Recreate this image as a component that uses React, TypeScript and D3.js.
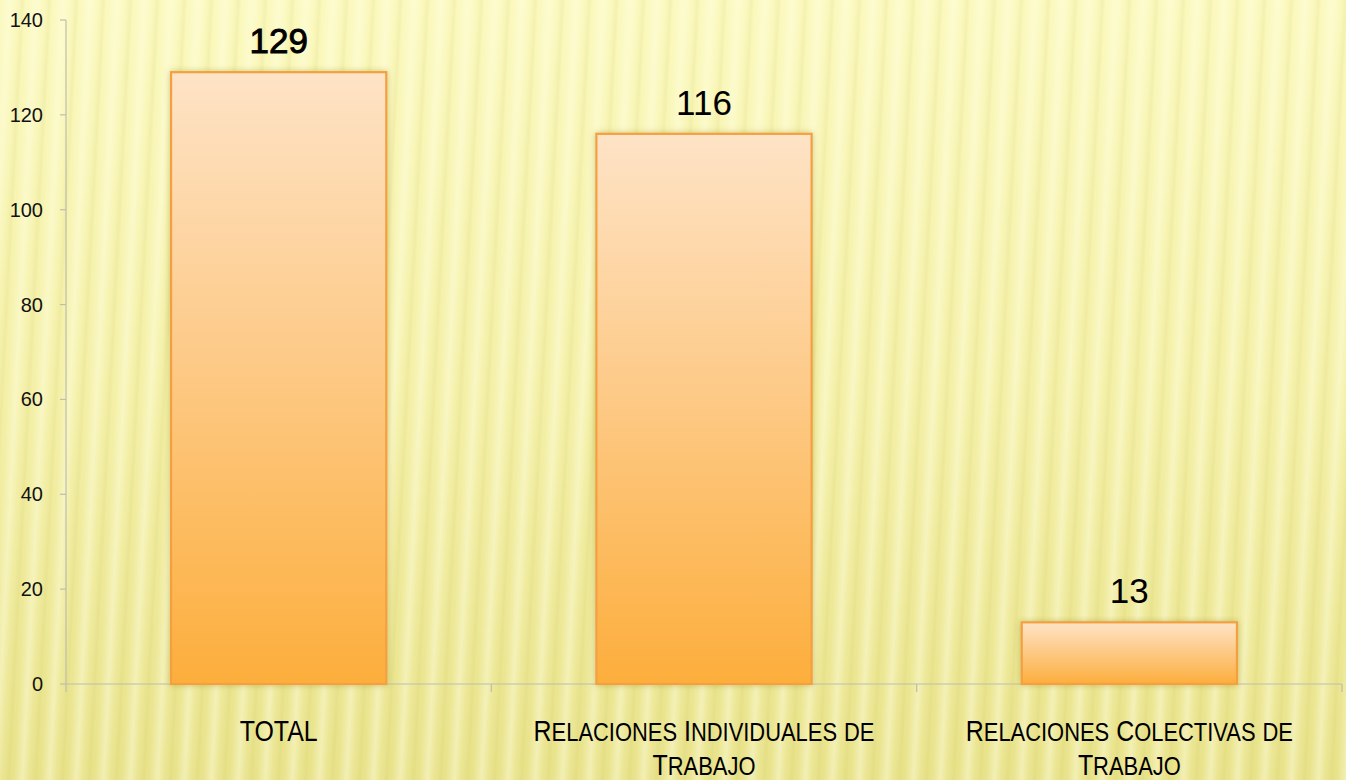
import * as d3 from "d3";
import React from "react";

const categories = ["TOTAL", "Relaciones Individuales de Trabajo", "Relaciones Colectivas de Trabajo"];
const values = [129, 116, 13];
const yTicks = [0, 20, 40, 60, 80, 100, 120, 140];

const W = 1346;
const H = 780;
const margin = { top: 20, right: 4, bottom: 96, left: 66 };

// crude wrap: keep words on a line until it gets too long
function wrapLabel(label: string, maxChars: number): string[] {
    const words = label.split(" ");
    const lines: string[] = [];
    let cur = "";
    words.forEach(w => {
        const next = cur ? cur + " " + w : w;
        if (next.length > maxChars && cur) {
            lines.push(cur);
            cur = w;
        } else {
            cur = next;
        }
    });
    if (cur) lines.push(cur);
    return lines;
}

// fake small caps: real capitals big, lower case letters as smaller capitals
function smallCaps(line: string, big: number, small: number) {
    const parts: { t: string; s: number }[] = [];
    for (const ch of line) {
        const isLower = ch !== ch.toUpperCase();
        const s = isLower ? small : big;
        const last = parts[parts.length - 1];
        if (last && last.s === s) last.t += ch.toUpperCase();
        else parts.push({ t: ch.toUpperCase(), s });
    }
    return parts;
}

const App: React.FC = () => {
    const x = d3.scaleBand<string>()
        .domain(categories)
        .range([margin.left, W - margin.right])
        .paddingInner(0.494)
        .paddingOuter(0.247);
    const y = d3.scaleLinear().domain([0, 140]).range([H - margin.bottom, margin.top]);

    const step = x.step();
    const bandEdges = categories.map((c, i) => margin.left + step * (i + 1));
    const y0 = y(0);
    const font = "Liberation Sans, Arial, sans-serif";

    return (
        <svg width={W} height={H} style={{ position: "absolute", top: 0, left: 0 }}>
            <defs>
                <linearGradient id="bg" x1="0" y1="0" x2="0" y2="1">
                    <stop offset="0" stopColor="#fbf9bd" />
                    <stop offset="0.5" stopColor="#f4f0a6" />
                    <stop offset="1" stopColor="#e8e288" />
                </linearGradient>
                <linearGradient id="stripe" x1="0" y1="0" x2="1" y2="0">
                    <stop offset="0" stopColor="#fffff0" stopOpacity="0" />
                    <stop offset="0.35" stopColor="#ffffe8" stopOpacity="0.45" />
                    <stop offset="0.6" stopColor="#ffffe8" stopOpacity="0.1" />
                    <stop offset="0.85" stopColor="#c8c060" stopOpacity="0.14" />
                    <stop offset="1" stopColor="#fffff0" stopOpacity="0" />
                </linearGradient>
                <pattern id="stripes" width="27" height="780" patternUnits="userSpaceOnUse" patternTransform="skewX(-3)">
                    <rect width="27" height="780" fill="url(#stripe)" />
                </pattern>
                <linearGradient id="bar" x1="0" y1="0" x2="0" y2="1">
                    <stop offset="0" stopColor="#fee3c6" />
                    <stop offset="0.45" stopColor="#fdcb8a" />
                    <stop offset="1" stopColor="#fdae3c" />
                </linearGradient>
                <filter id="shadow" x="-10%" y="-10%" width="120%" height="120%">
                    <feDropShadow dx="0" dy="0" stdDeviation="3" floodColor="#7a6a20" floodOpacity="0.35" />
                </filter>
            </defs>

            <rect width={W} height={H} fill="url(#bg)" />
            <rect width={W} height={H} fill="url(#stripes)" />

            {/* y axis */}
            <line x1={margin.left} x2={margin.left} y1={margin.top} y2={y0 + 8} stroke="#bdbdb0" strokeWidth={1.2} />
            {yTicks.map(t => (
                <g key={t}>
                    <line x1={margin.left - 6} x2={margin.left} y1={y(t)} y2={y(t)} stroke="#bdbdb0" strokeWidth={1.2} />
                    <text x={43} y={y(t)} dy="0.35em" textAnchor="end" fontFamily={font} fontSize={20} fill="#111">{t}</text>
                </g>
            ))}

            {/* x axis */}
            <line x1={margin.left} x2={W - margin.right} y1={y0} y2={y0} stroke="#bdbdb0" strokeWidth={1.2} />
            {bandEdges.map((bx, i) => (
                <line key={i} x1={bx} x2={bx} y1={y0} y2={y0 + 8} stroke="#bdbdb0" strokeWidth={1.2} />
            ))}

            {/* bars */}
            {categories.map((c, i) => {
                const bx = x(c) as number;
                const top = y(values[i]);
                return (
                    <g key={c}>
                        <rect x={bx} y={top} width={x.bandwidth()} height={y0 - top} fill="url(#bar)" stroke="#f4a040" strokeWidth={2.2} filter="url(#shadow)" />
                        <text x={bx + x.bandwidth() / 2} y={top - 19} textAnchor="middle"
                            fontFamily={font} fontSize={35} fill="#000"
                            stroke={i === 0 ? "#000" : "none"} strokeWidth={i === 0 ? 0.9 : 0}>{values[i]}</text>
                    </g>
                );
            })}

            {/* category labels */}
            {categories.map(c => {
                const cx = (x(c) as number) + x.bandwidth() / 2;
                const lines = wrapLabel(c, 27);
                return (
                    <g key={c} transform={`translate(${cx},0) scale(0.86,1)`}>
                        {lines.map((l, j) => (
                            <text key={j} x={0} y={741 + j * 34} textAnchor="middle" fontFamily={font} fill="#000">
                                {smallCaps(l, 29, 25.5).map((p, k) => (
                                    <tspan key={k} fontSize={p.s}>{p.t}</tspan>
                                ))}
                            </text>
                        ))}
                    </g>
                );
            })}
        </svg>
    );
};

export default App;
